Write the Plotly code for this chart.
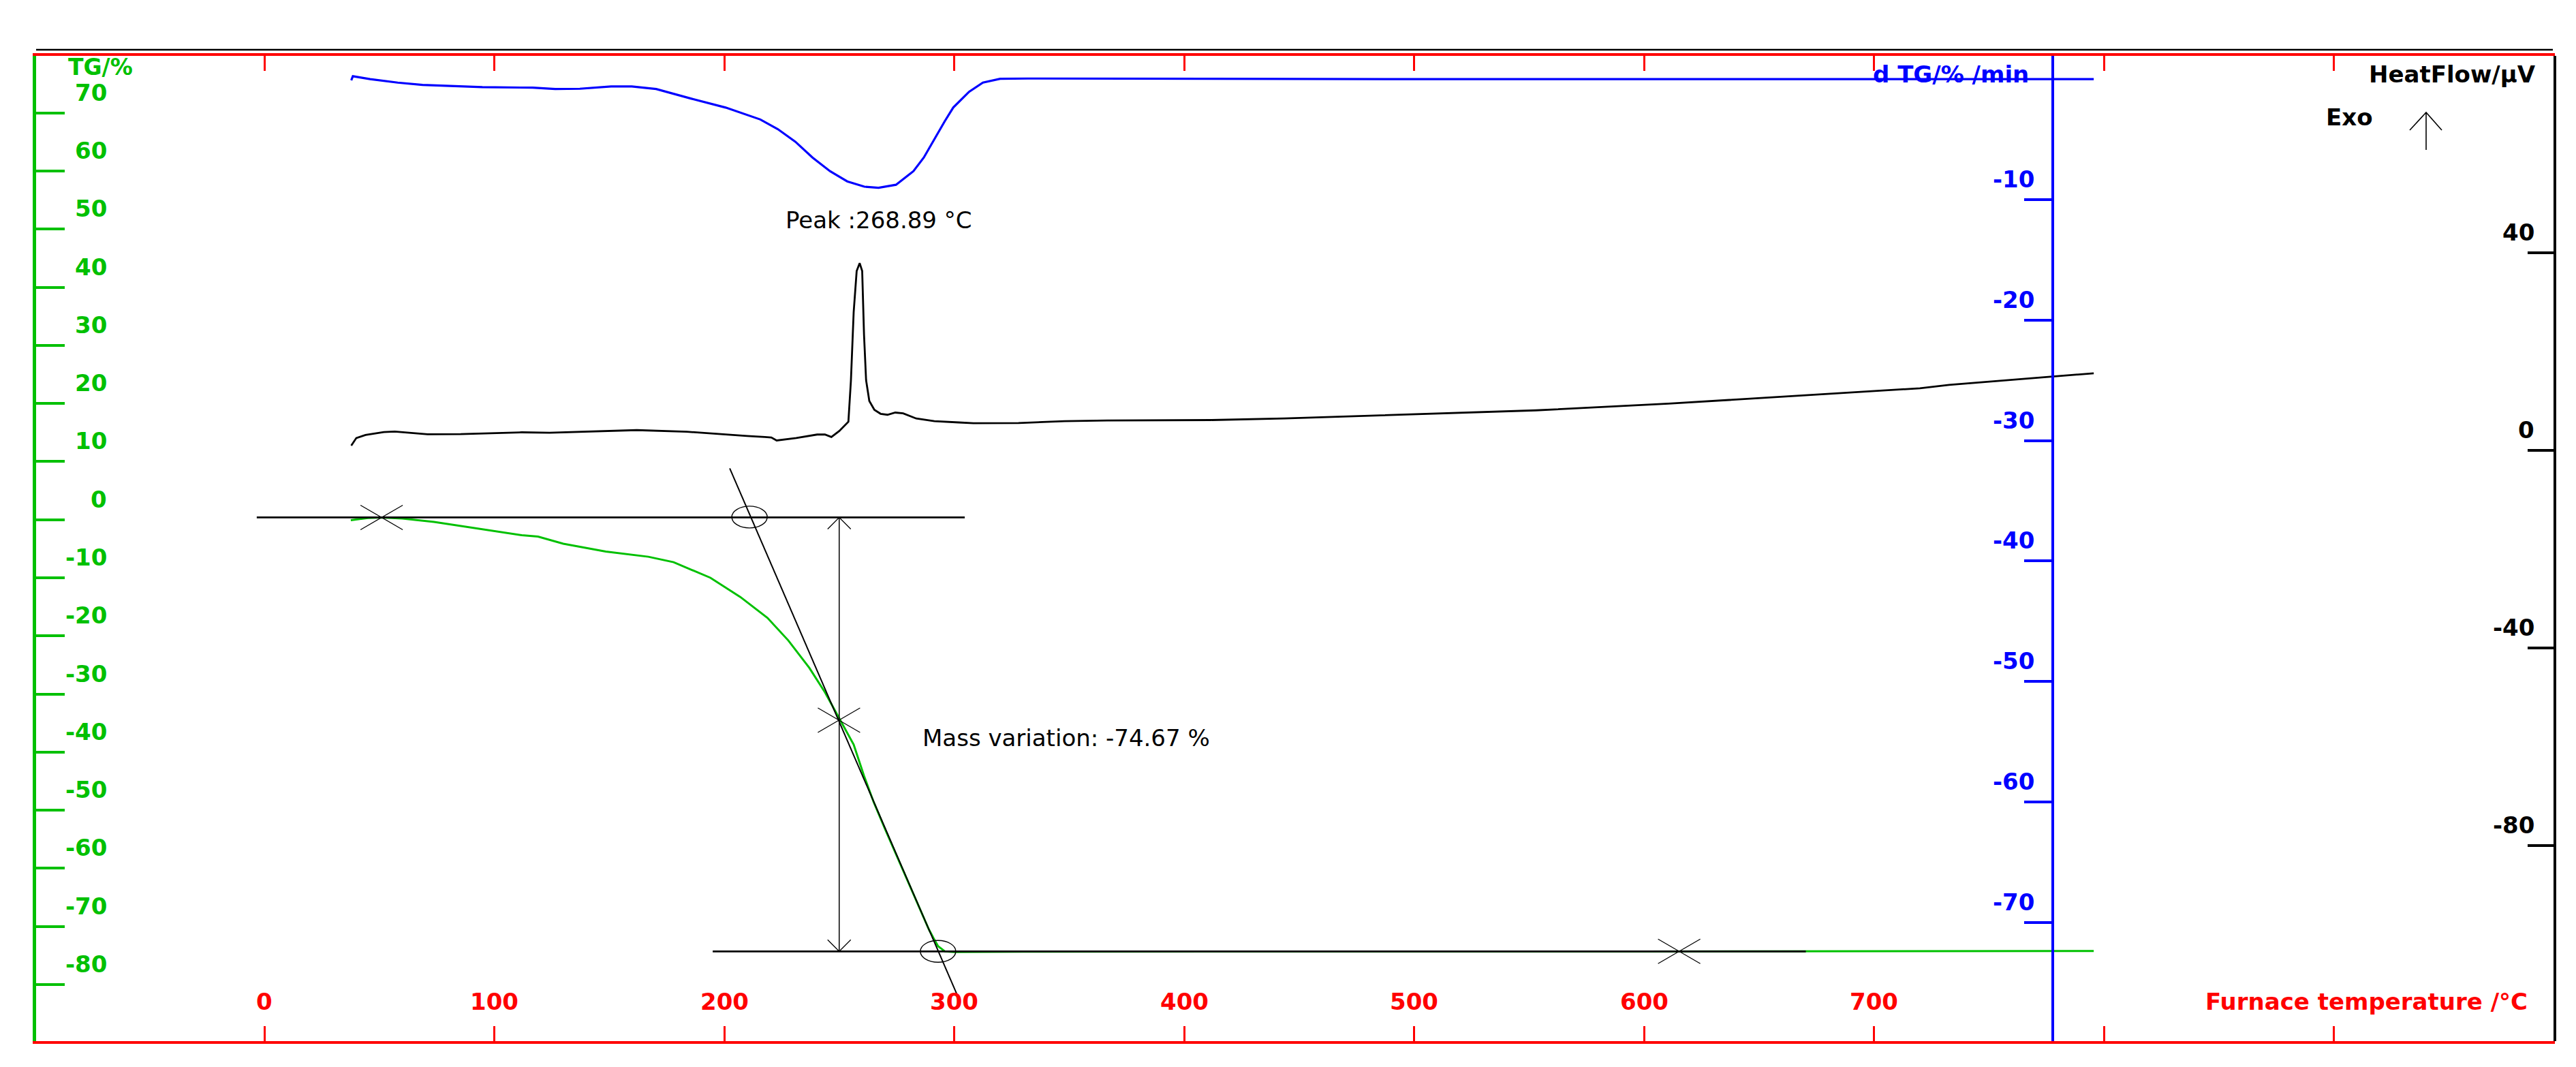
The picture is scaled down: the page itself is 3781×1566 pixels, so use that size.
import plotly.graph_objects as go

W, H = 3781, 1566

# ---------------- data ----------------
tg_T = [37.6, 45, 51, 60, 73.8, 94, 112, 119, 130, 148.5, 167, 178, 194, 207, 218.8,
        227.9, 237, 243.8, 250.6, 256.3, 260.8, 265, 270, 275, 280, 285, 289, 291,
        293, 296, 300, 330, 400, 500, 600, 700, 795.6]
tg_v = [-0.1, 0.3, 0.38, 0.2, -0.39, -1.56, -2.68, -2.92, -4.14, -5.49, -6.38, -7.32,
        -10.0, -13.3, -16.9, -20.8, -25.5, -29.7, -34.5, -38.7, -44.1, -48.6, -53.3,
        -57.8, -62.4, -67.0, -70.5, -72.0, -73.4, -74.3, -74.4, -74.35, -74.3, -74.3,
        -74.3, -74.25, -74.22]

dtg_T = [37.8, 38.5, 46, 58, 68.8, 87, 94.8, 116.7, 126.5, 137.2, 150.8, 159.8, 170.4,
         185.5, 200.6, 215.7, 223.3, 230.9, 238.4, 246, 253.5, 261, 267.1, 274.7, 282.3,
         286.8, 291.3, 295.9, 299.6, 306.5, 312.5, 320, 331.9, 500, 795.6]
dtg_v = [-0.1, 0.24, 0.0, -0.29, -0.48, -0.63, -0.67, -0.71, -0.82, -0.8, -0.61, -0.61,
         -0.82, -1.61, -2.36, -3.35, -4.15, -5.19, -6.51, -7.64, -8.49, -8.93, -9.02,
         -8.77, -7.64, -6.51, -5.0, -3.5, -2.36, -1.05, -0.29, 0.03, 0.05, 0.0, 0.0]

hf_T = [37.8, 40.0, 44, 47.6, 52, 56.7, 61, 65.8, 71, 85.4, 112, 124, 140, 162, 183.7,
        200.7, 210, 217.7, 220.5, 222.8, 231.3, 240.4, 243.8, 246.6, 250, 254, 255.1,
        256.3, 257.6, 258.9, 260, 260.8, 261.7, 263.1, 265.3, 268, 271, 274.4, 277.8,
        283.5, 291.4, 302, 308.4, 328, 348, 366.5, 411.5, 443.6, 482, 553, 610.7, 655.7,
        720, 732.7, 777.8, 795.6]
hf_v = [0.97, 2.5, 3.1, 3.4, 3.7, 3.8, 3.65, 3.4, 3.26, 3.3, 3.65, 3.55, 3.8, 4.1, 3.77,
        3.17, 2.9, 2.7, 2.6, 2.0, 2.5, 3.2, 3.2, 2.7, 3.9, 5.8, 14.1, 28.0, 36.3, 37.9,
        36.3, 23.4, 14.2, 10.0, 8.2, 7.4, 7.2, 7.65, 7.5, 6.45, 5.9, 5.65, 5.5, 5.53,
        5.9, 6.04, 6.13, 6.45, 7.05, 8.1, 9.45, 10.7, 12.57, 13.26, 15.0, 15.6]

x_ticks = [0, 100, 200, 300, 400, 500, 600, 700, 800, 900]
x_tick_labels = ["0", "100", "200", "300", "400", "500", "600", "700", "", ""]
tg_ticks = [-80, -70, -60, -50, -40, -30, -20, -10, 0, 10, 20, 30, 40, 50, 60, 70]
dtg_ticks = [-70, -60, -50, -40, -30, -20, -10]
hf_ticks = [-80, -40, 0, 40]

# TG analysis construction
upper_base_T = [-3.3, 304.6]
upper_base_v = 0.38
lower_base_T = [195.0, 670.4]
lower_base_v = -74.29
tangent_T = [202.4, 302.2]
tangent_v = [8.84, -82.6]
circle_T = [211.0, 293.0]
circle_v = [0.45, -74.29]
cross_T = [51.0, 249.9, 615.3]
cross_v = [0.38, -34.5, -74.29]
arrow_T = 250.0

peak_text = "Peak :268.89 °C"
peak_pos = (267.3, 46.6)
mass_text = "Mass variation: -74.67 %"
mass_pos = (285.6, -37.5)

GREEN = "#00C000"
BLUE = "#0000FF"
RED = "#FF0000"
BLACK = "#000000"
FONT = "DejaVu Sans"


def px_x(p):
    return p / W


def px_y(p):
    return 1 - p / H


fig = go.Figure()

fig.add_trace(go.Scatter(x=tg_T, y=tg_v, mode="lines", line=dict(color=GREEN, width=3),
                         yaxis="y", showlegend=False, hoverinfo="skip"))
fig.add_trace(go.Scatter(x=upper_base_T, y=[upper_base_v] * 2, mode="lines",
                         line=dict(color=BLACK, width=2.8), showlegend=False, hoverinfo="skip"))
fig.add_trace(go.Scatter(x=lower_base_T, y=[lower_base_v] * 2, mode="lines",
                         line=dict(color=BLACK, width=2.8), showlegend=False, hoverinfo="skip"))
fig.add_trace(go.Scatter(x=tangent_T, y=tangent_v, mode="lines",
                         line=dict(color=BLACK, width=2), showlegend=False, hoverinfo="skip"))
fig.add_trace(go.Scatter(x=[arrow_T, arrow_T], y=[upper_base_v, lower_base_v], mode="lines",
                         line=dict(color=BLACK, width=1.5), showlegend=False, hoverinfo="skip"))
fig.add_trace(go.Scatter(x=dtg_T, y=dtg_v, mode="lines", line=dict(color=BLUE, width=3.2),
                         yaxis="y2", showlegend=False, hoverinfo="skip"))
fig.add_trace(go.Scatter(x=hf_T, y=hf_v, mode="lines", line=dict(color=BLACK, width=2.8),
                         yaxis="y3", showlegend=False, hoverinfo="skip"))
# empty trace that carries the top (mirrored) temperature ticks
fig.add_trace(go.Scatter(x=[], y=[], xaxis="x2", yaxis="y", showlegend=False,
                         hoverinfo="skip"))

shapes = []
# top black line
shapes.append(dict(type="line", xref="paper", yref="paper", x0=px_x(45), x1=px_x(3739),
                   y0=px_y(65), y1=px_y(65), line=dict(color=BLACK, width=2.5)))
# circles at onset / endset
for t, v in zip(circle_T, circle_v):
    shapes.append(dict(type="circle", xref="x", yref="y", xsizemode="pixel", ysizemode="pixel",
                       xanchor=t, yanchor=v, x0=-26, x1=26, y0=-16, y1=16,
                       line=dict(color=BLACK, width=1.4)))
# crosses
for t, v in zip(cross_T, cross_v):
    shapes.append(dict(type="path", xref="x", yref="y", xsizemode="pixel", ysizemode="pixel",
                       xanchor=t, yanchor=v, path="M-31,-18 L31,18 M-31,18 L31,-18",
                       line=dict(color=BLACK, width=1.3)))
# open arrowheads of the mass-variation arrow
shapes.append(dict(type="path", xref="x", yref="y", xsizemode="pixel", ysizemode="pixel",
                   xanchor=arrow_T, yanchor=upper_base_v, path="M-17,-17 L0,0 L17,-17",
                   line=dict(color=BLACK, width=1.3)))
shapes.append(dict(type="path", xref="x", yref="y", xsizemode="pixel", ysizemode="pixel",
                   xanchor=arrow_T, yanchor=lower_base_v, path="M-17,17 L0,0 L17,17",
                   line=dict(color=BLACK, width=1.3)))
# Exo arrow
ax_, at, ab, aw = px_x(3553), px_y(157), px_y(212), px_y(183)
shapes.append(dict(type="path", xref="paper", yref="paper",
                   path=f"M{ax_},{ab} L{ax_},{at} M{px_x(3529)},{aw} L{ax_},{at} L{px_x(3576)},{aw}",
                   line=dict(color=BLACK, width=1.6)))

ann = []
LBL = 34
YS = 8      # lift of the tick labels above their tick
for v in tg_ticks:
    ann.append(dict(xref="paper", yref="y", x=px_x(151), y=v, text=str(v), showarrow=False,
                    xanchor="right", yanchor="bottom", yshift=YS,
                    font=dict(family=FONT, size=LBL, color=GREEN, weight="bold")))
for v in dtg_ticks:
    ann.append(dict(xref="paper", yref="y2", x=px_x(2980), y=v, text=str(v), showarrow=False,
                    xanchor="right", yanchor="bottom", yshift=YS,
                    font=dict(family=FONT, size=LBL, color=BLUE, weight="bold")))
for v in hf_ticks:
    ann.append(dict(xref="paper", yref="y3", x=px_x(3714), y=v, text=str(v), showarrow=False,
                    xanchor="right", yanchor="bottom", yshift=YS,
                    font=dict(family=FONT, size=LBL, color=BLACK, weight="bold")))
for t, s in zip(x_ticks, x_tick_labels):
    if s:
        ann.append(dict(xref="x", yref="paper", x=t, y=px_y(1462), text=s, showarrow=False,
                        xanchor="center", yanchor="middle",
                        font=dict(family=FONT, size=LBL, color=RED, weight="bold")))

TT = 34
ann.append(dict(xref="paper", yref="paper", x=px_x(90), y=px_y(90), text="TG/%",
                showarrow=False, xanchor="left", yanchor="middle",
                font=dict(family=FONT, size=33, color=GREEN, weight="bold")))
ann.append(dict(xref="paper", yref="paper", x=px_x(2972), y=px_y(101), text="d TG/% /min",
                showarrow=False, xanchor="right", yanchor="middle",
                font=dict(family=FONT, size=TT, color=BLUE, weight="bold")))
ann.append(dict(xref="paper", yref="paper", x=px_x(3716), y=px_y(101), text="HeatFlow/µV",
                showarrow=False, xanchor="right", yanchor="middle",
                font=dict(family=FONT, size=TT, color=BLACK, weight="bold")))
ann.append(dict(xref="paper", yref="paper", x=px_x(3404), y=px_y(164), text="Exo",
                showarrow=False, xanchor="left", yanchor="middle",
                font=dict(family=FONT, size=TT, color=BLACK, weight="bold")))
ann.append(dict(xref="paper", yref="paper", x=px_x(3704), y=px_y(1462),
                text="Furnace temperature /°C", showarrow=False, xanchor="right",
                yanchor="middle", font=dict(family=FONT, size=TT, color=RED, weight="bold")))
ann.append(dict(xref="x", yref="y3", x=peak_pos[0], y=peak_pos[1], text=peak_text,
                showarrow=False, xanchor="center", yanchor="middle",
                font=dict(family=FONT, size=34, color=BLACK)))
ann.append(dict(xref="x", yref="y", x=mass_pos[0], y=mass_pos[1], text=mass_text,
                showarrow=False, xanchor="left", yanchor="middle",
                font=dict(family=FONT, size=34, color=BLACK)))

ydom = [px_y(1520), px_y(74)]
xrange_ = [-99.26, 996.15]

fig.update_layout(
    width=W, height=H,
    margin=dict(l=0, r=0, t=0, b=0),
    paper_bgcolor="white", plot_bgcolor="white",
    showlegend=False,
    shapes=shapes, annotations=ann,
    xaxis=dict(domain=[px_x(45), px_x(3742)], range=xrange_,
               showline=True, linecolor=RED, linewidth=4, mirror=True,
               ticks="inside", ticklen=22, tickwidth=3, tickcolor=RED,
               tickmode="array", tickvals=x_ticks, showticklabels=False,
               showgrid=False, zeroline=False, fixedrange=True),
    xaxis2=dict(overlaying="x", side="top", anchor="y", range=xrange_,
                showline=False, ticks="inside", ticklen=22, tickwidth=3, tickcolor=RED,
                tickmode="array", tickvals=x_ticks, showticklabels=False,
                showgrid=False, zeroline=False),
    yaxis=dict(domain=ydom, range=[-89.73, 79.81], anchor="x", side="left",
               showline=True, linecolor=GREEN, linewidth=4.5,
               ticks="inside", ticklen=42, tickwidth=4, tickcolor=GREEN,
               tickmode="array", tickvals=tg_ticks, showticklabels=False,
               showgrid=False, zeroline=False),
    yaxis2=dict(overlaying="y", anchor="free", position=px_x(3005), side="left",
                range=[-79.86, 1.93], showline=True, linecolor=BLUE, linewidth=3.5,
                ticks="outside", ticklen=40, tickwidth=4, tickcolor=BLUE,
                tickmode="array", tickvals=dtg_ticks, showticklabels=False,
                showgrid=False, zeroline=False),
    yaxis3=dict(overlaying="y", anchor="free", position=px_x(3742), side="right",
                range=[-119.6, 79.86], showline=True, linecolor=BLACK, linewidth=4,
                ticks="inside", ticklen=38, tickwidth=4, tickcolor=BLACK,
                tickmode="array", tickvals=hf_ticks, showticklabels=False,
                showgrid=False, zeroline=False),
)

fig.write_html("out.html")
